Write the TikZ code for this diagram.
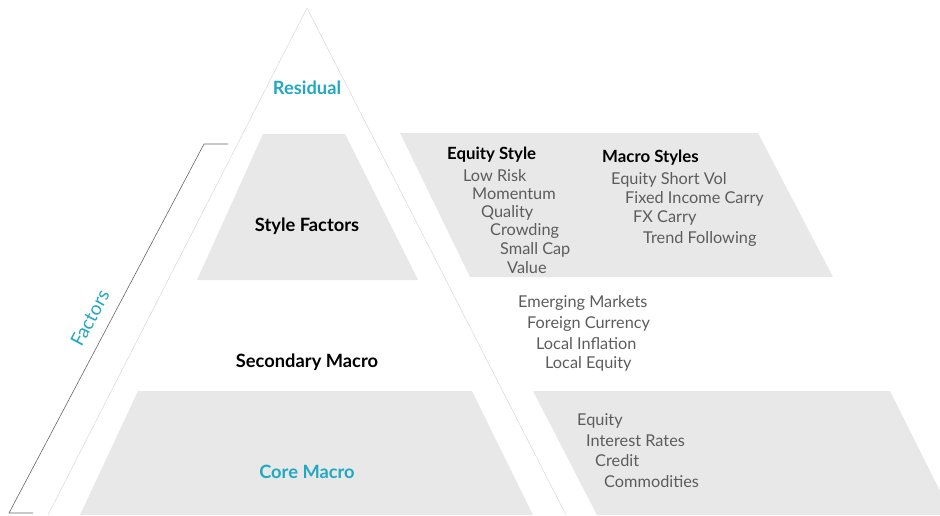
\documentclass[tikz,border=0pt]{standalone}
\usepackage{fontspec}
\setmainfont{Lato}
\usetikzlibrary{positioning}

\definecolor{panelgray}{HTML}{E8E8E8}
\definecolor{factorcyan}{HTML}{22A8C2}
\definecolor{itemgray}{HTML}{5C5C5C}
\definecolor{edgegray}{HTML}{D2D2D2}
\definecolor{bracketgray}{HTML}{666666}

\begin{document}
\begin{tikzpicture}[
			x=1pt, y=-1pt,
			panel/.style={fill=panelgray, draw=none},
			level/.style={font=\fontsize{18.3}{20}\selectfont\bfseries, text=black},
			cyanlevel/.style={font=\fontsize{18.3}{20}\selectfont\bfseries, text=factorcyan},
			heading/.style={anchor=west, inner sep=0pt, font=\fontsize{16.8}{18}\selectfont\bfseries, text=black},
			item/.style={anchor=west, inner sep=0pt, font=\fontsize{16.3}{18}\selectfont, text=itemgray}
			]
			\useasboundingbox (0,0) rectangle (940,515);
			% grey bands
			\fill[panel] (263,134) -- (345,134) -- (418,280) -- (197,280) -- cycle;
			\fill[panel] (400,133) -- (758,133) -- (833,277) -- (470,277) -- cycle;
			\fill[panel] (138,391) -- (472,391) -- (533,515) -- (80,515) -- cycle;
			\fill[panel] (533,391) -- (890,391) -- (952,515) -- (597,515) -- cycle;
			% pyramid outline
			\draw[edgegray, thin] (48,515) -- (307,8) -- (566,515);
			% factors bracket
			\draw[bracketgray, semithick] (228,144) -- (204,144) -- (9,513) -- (33,513);
			\node[text=factorcyan, font=\fontsize{19}{21}\selectfont, rotate=62, inner sep=0pt] (factors) at (90,318) {Factors};

			\node[cyanlevel] (residual) at (307,88) {Residual};
			\node[level] (style) at (307,226) {Style Factors};
			\node[level] (secondary) at (307,362) {Secondary Macro};
			\node[cyanlevel] (core) at (307,472) {Core Macro};

			\node[heading] (eqstyle) at (447,155) {Equity Style};
			\node[item] (lowrisk) at (463,176) {Low Risk};
			\node[item] (momentum) at (472,194) {Momentum};
			\node[item] (quality) at (481,213) {Quality};
			\node[item] (crowding) at (490,231) {Crowding};
			\node[item] (smallcap) at (500,250) {Small Cap};
			\node[item] (value) at (507,268) {Value};

			\node[heading] (macstyle) at (602,158) {Macro Styles};
			\node[item] (shortvol) at (611,180) {Equity Short Vol};
			\node[item] (fixedinc) at (625,199) {Fixed Income Carry};
			\node[item] (fxcarry) at (633,218) {FX Carry};
			\node[item] (trend) at (643,239) {Trend Following};

			\node[item] (emerging) at (518,303) {Emerging Markets};
			\node[item] (foreign) at (527,324) {Foreign Currency};
			\node[item] (inflation) at (536,344) {Local Inflation};
			\node[item] (localeq) at (545,364) {Local Equity};

			\node[item] (equity) at (577,421) {Equity};
			\node[item] (rates) at (586,441) {Interest Rates};
			\node[item] (credit) at (595,461) {Credit};
			\node[item] (commod) at (604,482) {Commodities};
		\end{tikzpicture}
\end{document}
